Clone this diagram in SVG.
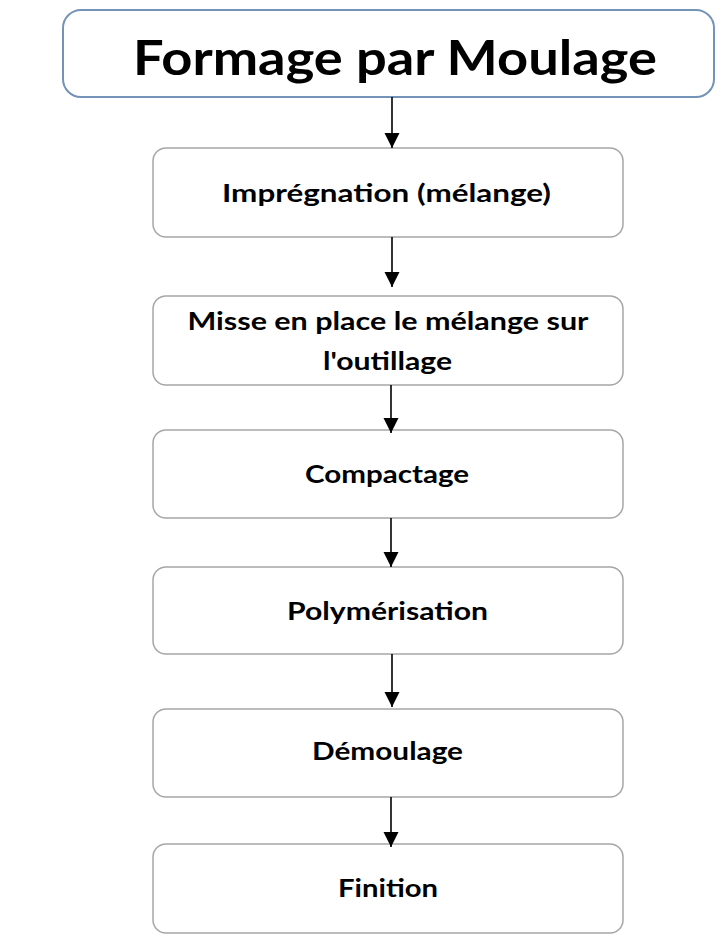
<svg xmlns="http://www.w3.org/2000/svg" width="724" height="947" viewBox="0 0 724 947">
<style>
.box{fill:#ffffff;stroke:#a6a6a6;stroke-width:1.5}
.title{fill:#ffffff;stroke:#7393b8;stroke-width:2}
.t{font-family:Lato,"Open Sans","Liberation Sans",sans-serif;font-weight:bold;font-size:24px;fill:#000;text-anchor:middle}
.tt{font-family:Lato,"Open Sans","Liberation Sans",sans-serif;font-weight:bold;font-size:47px;fill:#000;text-anchor:middle}
.c{stroke:#000;stroke-width:1.6;fill:none}
</style>
<defs>
<marker id="ah" viewBox="0 0 10 10" refX="10" refY="5" markerUnits="userSpaceOnUse" markerWidth="15" markerHeight="16" orient="auto">
<path d="M0,0 L10,5 L0,10 Z" fill="#000"/>
</marker>
</defs>
<rect width="724" height="947" fill="#ffffff"/>
<g id="n0">
<rect class="title" x="63" y="10" width="651" height="87" rx="18"/>
<text class="tt" x="395" y="75" textLength="524" lengthAdjust="spacingAndGlyphs">Formage par Moulage</text>
</g>
<g id="n1">
<rect class="box" x="153" y="148" width="470" height="89" rx="13"/>
<text class="t" x="386.5" y="202" textLength="329" lengthAdjust="spacingAndGlyphs">Imprégnation (mélange)</text>
</g>
<g id="n2">
<rect class="box" x="153" y="296" width="470" height="89" rx="13"/>
<text class="t" x="388" y="330" textLength="401" lengthAdjust="spacingAndGlyphs">Misse en place le mélange sur</text>
<text class="t" x="387.5" y="370" textLength="129" lengthAdjust="spacingAndGlyphs">l'outillage</text>
</g>
<g id="n3">
<rect class="box" x="153" y="430" width="470" height="88" rx="13"/>
<text class="t" x="387" y="483" textLength="164" lengthAdjust="spacingAndGlyphs">Compactage</text>
</g>
<g id="n4">
<rect class="box" x="153" y="567" width="470" height="87" rx="13"/>
<text class="t" x="387.5" y="620" textLength="201" lengthAdjust="spacingAndGlyphs">Polymérisation</text>
</g>
<g id="n5">
<rect class="box" x="153" y="709" width="470" height="88" rx="13"/>
<text class="t" x="387.5" y="760" textLength="151" lengthAdjust="spacingAndGlyphs">Démoulage</text>
</g>
<g id="n6">
<rect class="box" x="153" y="844" width="470" height="89" rx="13"/>
<text class="t" x="388" y="897" textLength="100" lengthAdjust="spacingAndGlyphs">Finition</text>
</g>
<g id="connectors">
<line class="c" x1="392" y1="97" x2="392" y2="148" marker-end="url(#ah)"/>
<line class="c" x1="392" y1="237" x2="392" y2="287" marker-end="url(#ah)"/>
<line class="c" x1="391" y1="385" x2="391" y2="433" marker-end="url(#ah)"/>
<line class="c" x1="391" y1="518" x2="391" y2="567" marker-end="url(#ah)"/>
<line class="c" x1="392" y1="654" x2="392" y2="707" marker-end="url(#ah)"/>
<line class="c" x1="391" y1="797" x2="391" y2="847" marker-end="url(#ah)"/>
</g>
</svg>
